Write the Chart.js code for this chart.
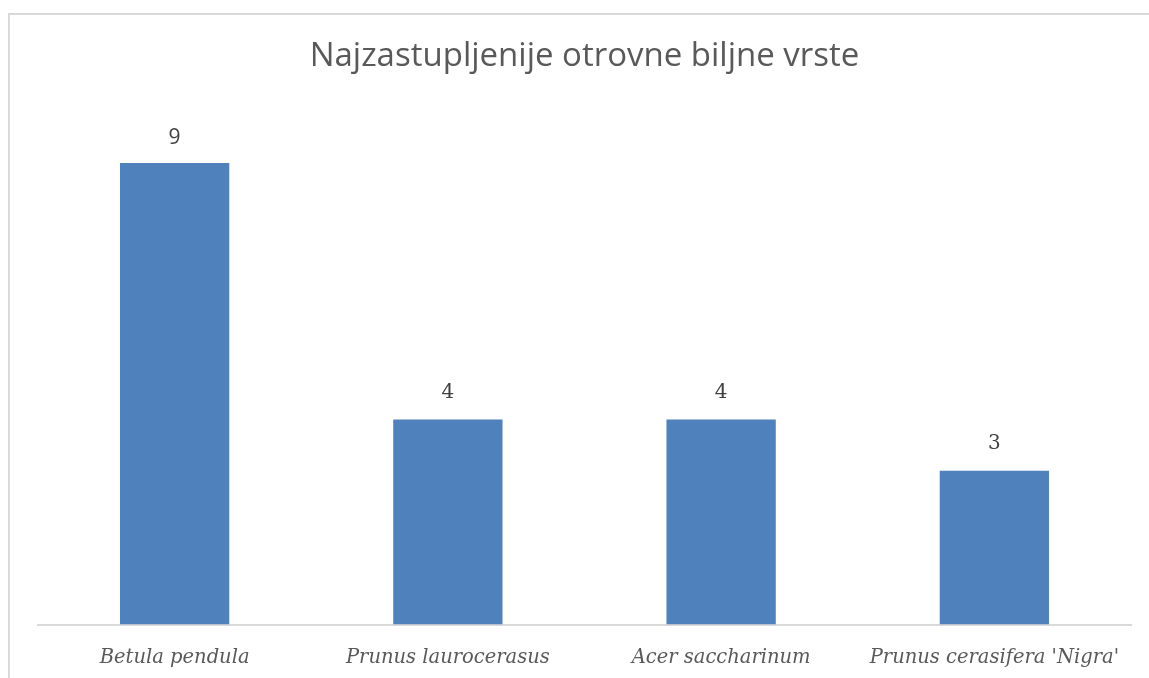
<!DOCTYPE html>
<html>
<head>
<meta charset="utf-8">
<script src="https://cdn.jsdelivr.net/npm/chart.js@4"></script>
<style>
  body { margin: 0; background: #fff; }
  #wrap { position: relative; width: 1149px; height: 678px; overflow: hidden; }
  #okvir { position: absolute; left: 8px; top: 13px; width: 1160px; height: 700px;
           border: 2px solid #d9d9d9; box-sizing: border-box; pointer-events: none; }
  canvas { position: absolute; left: 0; top: 0; }
</style>
</head>
<body>
<div id="wrap">
  <canvas id="grafica" width="1149" height="678"></canvas>
  <div id="okvir"></div>
</div>
<script>
    let vrste = ["Betula pendula", "Prunus laurocerasus", "Acer saccharinum", "Prunus cerasifera 'Nigra'"];
    let broj = [9, 4, 4, 3];
    let naslov = "Najzastupljenije otrovne biljne vrste";

    // brojevi iznad stupaca
    let oznake = {
        id: "oznake",
        afterDatasetsDraw: function (chart) {
            let ctx = chart.ctx;
            let meta = chart.getDatasetMeta(0);
            ctx.save();
            ctx.fillStyle = "#404040";
            ctx.textAlign = "center";
            ctx.textBaseline = "middle";
            meta.data.forEach(function (bar, i) {
                ctx.font = i === 0 ? "21px 'Open Sans'" : "20px 'DejaVu Serif'";
                ctx.fillText(String(broj[i]), bar.x, bar.y - (i === 0 ? 25 : 27));
            });
            ctx.restore();
        }
    };

    let ctx = document.getElementById("grafica").getContext("2d");
    let miGrafica = new Chart(ctx, {
        type: "bar",
        data: {
            labels: vrste,
            datasets: [{
                data: broj,
                backgroundColor: "#4f81bd",
                categoryPercentage: 1,
                barPercentage: 0.4
            }]
        },
        options: {
            responsive: false,
            animation: false,
            layout: { padding: { left: 38, right: 18, top: 0, bottom: -14 } },
            plugins: {
                legend: { display: false },
                tooltip: { enabled: false },
                title: {
                    display: true,
                    text: naslov,
                    color: "#595959",
                    font: { family: "'Open Sans'", size: 33, weight: "normal", lineHeight: 1.2 },
                    padding: { top: 37, bottom: 35 }
                }
            },
            scales: {
                x: {
                    grid: { display: false, drawTicks: false },
                    border: { display: true, color: "#d9d9d9", width: 2 },
                    ticks: {
                        color: "#595959",
                        padding: 22,
                        font: { family: "'DejaVu Serif'", size: 19.5, style: "italic" }
                    }
                },
                y: {
                    display: false,
                    min: 0,
                    max: 10
                }
            }
        },
        plugins: [oznake]
    });
</script>
</body>
</html>
